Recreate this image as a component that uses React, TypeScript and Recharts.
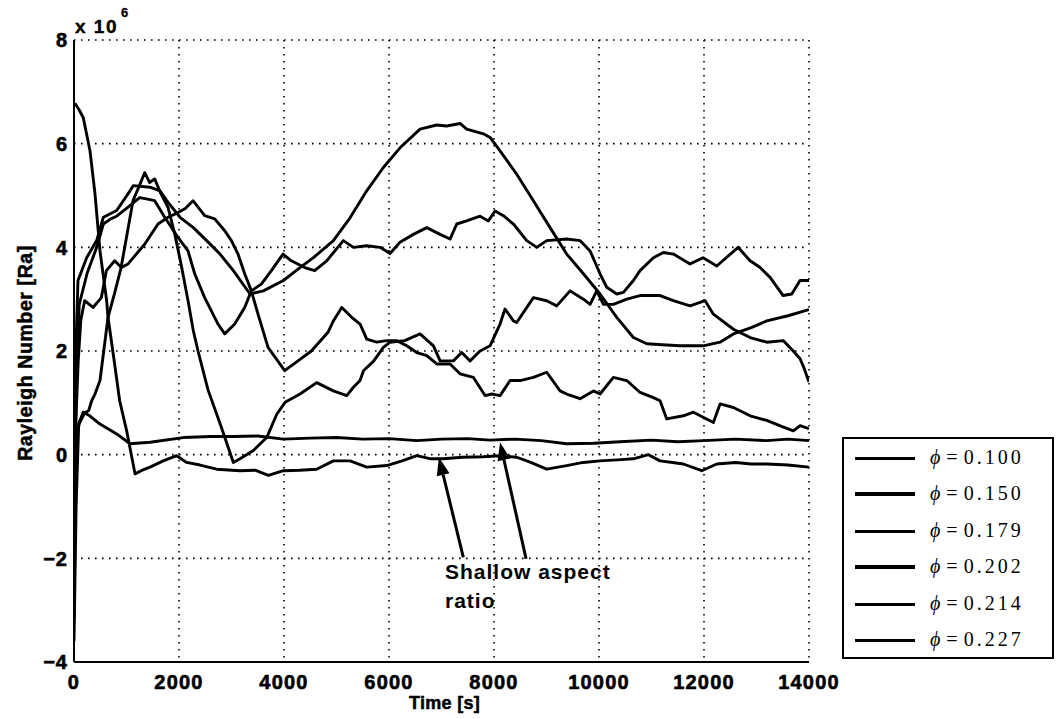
import React from "react";
import { LineChart, Line, XAxis, YAxis, CartesianGrid, ReferenceLine, Label } from "recharts";

// ---- tick labels / axes ----
const xTicks = [0, 2000, 4000, 6000, 8000, 10000, 12000, 14000];
const yTicks = [-4, -2, 0, 2, 4, 6, 8];
const seriesLabels = ["0.100", "0.150", "0.179", "0.202", "0.214", "0.227"];

// ---- series: [time s, Rayleigh number x 1e6] ----
const phi100: [number, number][] = [
  [0, -2.0], [40, 2.2], [76, 3.36], [241, 3.8], [432, 4.13], [559, 4.58], [813, 4.71], [1067, 5.09], [1130, 5.19],
  [1448, 5.16], [1638, 5.09], [1766, 4.9], [2019, 4.58], [2273, 4.38], [2527, 4.13], [2781, 3.87], [3035, 3.55],
  [3353, 3.1], [3607, 3.16], [3988, 3.36], [4305, 3.61], [4560, 3.8], [4940, 4.13], [5258, 4.57], [5576, 5.09],
  [5893, 5.54], [6210, 5.92], [6591, 6.28], [6909, 6.36], [7100, 6.34], [7353, 6.39], [7480, 6.28], [7798, 6.19],
  [7925, 6.12], [8115, 5.86], [8433, 5.41], [8750, 4.9], [9068, 4.38], [9385, 3.87], [9703, 3.49], [10020, 3.1],
  [10338, 2.65], [10655, 2.26], [10909, 2.14], [11200, 2.12], [11544, 2.1], [11983, 2.1], [12306, 2.17],
  [12560, 2.33], [12900, 2.45], [13195, 2.58], [13600, 2.68], [14000, 2.8],
];
const phi150: [number, number][] = [
  [0, -3.0], [40, 1.5], [100, 2.9], [150, 3.1], [250, 3.5], [432, 4.0], [559, 4.45], [700, 4.55], [813, 4.6],
  [1000, 4.75], [1251, 4.96], [1400, 4.93], [1537, 4.9], [1728, 4.58], [1981, 4.19], [2172, 3.93], [2299, 3.49],
  [2489, 3.03], [2743, 2.52], [2871, 2.33], [3061, 2.52], [3251, 2.84], [3378, 3.16], [3568, 3.29], [3759, 3.55],
  [3981, 3.87], [4140, 3.74], [4394, 3.61], [4585, 3.55], [4813, 3.74], [5131, 4.13], [5322, 4.0], [5576, 4.03],
  [5830, 4.0], [6020, 3.88], [6210, 4.1], [6464, 4.25], [6719, 4.38], [6973, 4.25], [7163, 4.16], [7290, 4.45],
  [7480, 4.51], [7734, 4.6], [7893, 4.51], [8020, 4.7], [8179, 4.61], [8370, 4.45], [8623, 4.13], [8814, 4.0],
  [9004, 4.13], [9385, 4.16], [9639, 4.13], [9830, 3.93], [10020, 3.49], [10147, 3.23], [10338, 3.1],
  [10465, 3.13], [10655, 3.36], [10782, 3.55], [11036, 3.8], [11226, 3.9], [11417, 3.87], [11734, 3.68],
  [11983, 3.8], [12243, 3.64], [12650, 4.0], [12878, 3.74], [13068, 3.61], [13259, 3.42], [13507, 3.07],
  [13672, 3.1], [13830, 3.36], [14000, 3.36],
];
const phi179: [number, number][] = [
  [0, -2.5], [30, 0.5], [80, 1.8], [130, 2.6], [203, 2.97], [362, 2.84], [521, 3.03], [616, 3.55], [775, 3.74],
  [902, 3.61], [1029, 3.68], [1346, 4.06], [1600, 4.45], [1791, 4.58], [1981, 4.67], [2120, 4.75], [2267, 4.9],
  [2489, 4.61], [2680, 4.55], [2871, 4.32], [2998, 4.13], [3124, 3.87], [3251, 3.49], [3378, 3.16], [3505, 2.71],
  [3696, 2.07], [4013, 1.62], [4267, 1.81], [4521, 2.0], [4838, 2.36], [4940, 2.58], [5100, 2.84], [5290, 2.65],
  [5450, 2.52], [5576, 2.23], [5766, 2.17], [5957, 2.2], [6147, 2.2], [6338, 2.1], [6528, 1.97], [6719, 1.91],
  [6910, 1.75], [7163, 1.75], [7353, 1.56], [7608, 1.49], [7830, 1.14], [7957, 1.17], [8115, 1.14], [8306, 1.43],
  [8496, 1.43], [8750, 1.49], [9004, 1.59], [9258, 1.23], [9385, 1.17], [9639, 1.08], [9894, 1.23], [10020, 1.17],
  [10274, 1.49], [10529, 1.43], [10782, 1.2], [11036, 1.1], [11163, 1.04], [11290, 0.69], [11607, 0.75],
  [11798, 0.82], [12179, 0.62], [12306, 0.98], [12560, 0.91], [12878, 0.75], [13195, 0.66], [13513, 0.53],
  [13703, 0.46], [13830, 0.56], [14000, 0.5],
];
const phi202: [number, number][] = [
  [0, -3.2], [40, 0.3], [100, 0.6], [200, 0.8], [280, 0.85], [337, 1.04], [400, 1.17], [495, 1.43], [648, 2.65],
  [770, 3.1], [895, 3.6], [1010, 4.25], [1124, 4.9], [1250, 5.2], [1346, 5.44], [1442, 5.25], [1537, 5.32],
  [1657, 5.03], [1791, 4.77], [1918, 4.26], [2038, 3.68], [2172, 2.97], [2273, 2.39], [2362, 2.0], [2553, 1.25],
  [2800, 0.55], [3035, -0.15], [3162, -0.08], [3416, 0.08], [3671, 0.33], [3862, 0.78], [4020, 1.01],
  [4305, 1.17], [4623, 1.39], [4940, 1.23], [5195, 1.14], [5322, 1.3], [5449, 1.43], [5513, 1.62], [5703, 1.8],
  [5893, 2.07], [6020, 2.17], [6300, 2.2], [6591, 2.33], [6846, 2.1], [6974, 1.81], [7226, 1.81], [7385, 1.97],
  [7544, 1.81], [7734, 2.0], [7925, 2.1], [8115, 2.52], [8210, 2.81], [8370, 2.58], [8433, 2.55], [8750, 3.03],
  [9004, 2.97], [9195, 2.87], [9449, 3.16], [9703, 3.0], [9830, 2.9], [9957, 3.16], [10084, 2.9], [10274, 2.9],
  [10529, 3.0], [10782, 3.07], [11163, 3.07], [11417, 2.97], [11734, 2.87], [12021, 2.97], [12179, 2.71],
  [12560, 2.42], [12878, 2.26], [13195, 2.17], [13513, 2.2], [13700, 2.0], [13830, 1.85], [13894, 1.7],
  [14000, 1.4],
];
const phi214: [number, number][] = [
  [0, -3.6], [40, -1.0], [90, 0.6], [177, 0.82], [300, 0.75], [495, 0.59], [813, 0.4], [1067, 0.21],
  [1448, 0.24], [2082, 0.33], [2600, 0.35], [3035, 0.35], [3500, 0.36], [3988, 0.3], [4500, 0.32], [5000, 0.33],
  [5500, 0.3], [6000, 0.31], [6528, 0.27], [7000, 0.3], [7500, 0.31], [7925, 0.28], [8400, 0.3], [8900, 0.27],
  [9385, 0.21], [9900, 0.22], [10400, 0.25], [11000, 0.28], [11500, 0.25], [12000, 0.27], [12600, 0.3],
  [13195, 0.27], [13600, 0.3], [14000, 0.27],
];
const phi227: [number, number][] = [
  [0, 6.76], [30, 6.76], [100, 6.65], [177, 6.5], [305, 5.86], [400, 5.03], [495, 3.93], [622, 2.97],
  [648, 2.65], [760, 1.85], [870, 1.04], [1003, 0.46], [1162, -0.37], [1300, -0.3], [1448, -0.24], [1700, -0.12],
  [1956, -0.02], [2146, -0.15], [2400, -0.2], [2718, -0.28], [3162, -0.31], [3450, -0.3], [3702, -0.4],
  [3988, -0.31], [4300, -0.3], [4623, -0.28], [4940, -0.12], [5258, -0.12], [5576, -0.24], [5957, -0.21],
  [6250, -0.12], [6528, -0.02], [6800, -0.08], [7036, -0.08], [7400, -0.05], [7798, -0.04], [8115, -0.02],
  [8433, -0.05], [8700, -0.15], [9004, -0.28], [9385, -0.21], [9700, -0.15], [10020, -0.12], [10350, -0.1],
  [10655, -0.08], [10941, 0.0], [11163, -0.12], [11400, -0.15], [11607, -0.18], [11957, -0.31], [12243, -0.18],
  [12600, -0.15], [12900, -0.18], [13195, -0.18], [13600, -0.2], [14000, -0.24],
];

// annotation arrows: [tail, tip] in data units
const arrowA: [number, number][] = [[7416, -1.98], [6950, -0.05]];
const arrowB: [number, number][] = [[8611, -2.01], [8115, 0.24]];

const allSeries = [phi100, phi150, phi179, phi202, phi214, phi227];
const legendWidths = [3, 4, 3, 4, 3, 3];

const toData = (s: [number, number][]) => s.map(([t, v]) => ({ t, v }));

const fmtY = (v: number) => (v < 0 ? "\u2212" + Math.abs(v) : String(v));

const SANS = "'Liberation Sans', Arial, Helvetica, sans-serif";

const XTick = (props: any) => {
  const { x, y, payload } = props;
  return (
    <text x={x} y={y} dy="0.71em" textAnchor="middle" fontFamily={SANS} fontWeight={700} fontSize={20}
      fill="#000" stroke="#000" strokeWidth={0.6} letterSpacing={1.2}>
      {payload.value}
    </text>
  );
};
const YTick = (props: any) => {
  const { x, y, payload } = props;
  return (
    <text x={x} y={y} dy="0.36em" textAnchor="end" fontFamily={SANS} fontWeight={700} fontSize={20}
      fill="#000" stroke="#000" strokeWidth={0.6} letterSpacing={1}>
      {fmtY(payload.value)}
    </text>
  );
};

const Arrow = (props: any) => {
  const { x1, y1, x2, y2 } = props;
  if ([x1, y1, x2, y2].some((n) => typeof n !== "number" || isNaN(n))) return <g />;
  const dx = x2 - x1;
  const dy = y2 - y1;
  const len = Math.sqrt(dx * dx + dy * dy);
  const ux = dx / len;
  const uy = dy / len;
  const hl = 18;
  const hw = 6.5;
  const bx = x2 - ux * hl;
  const by = y2 - uy * hl;
  const px = -uy;
  const py = ux;
  return (
    <g>
      <line x1={x1} y1={y1} x2={bx} y2={by} stroke="#000" strokeWidth={3} />
      <polygon points={`${x2},${y2} ${bx + px * hw},${by + py * hw} ${bx - px * hw},${by - py * hw}`} fill="#000" />
    </g>
  );
};

const YLabel = (props: any) => {
  const vb = props.viewBox || { x: 0, y: 40, width: 74, height: 622 };
  const cx = vb.x + 32;
  const cy = vb.y + vb.height / 2 + 2;
  return (
    <text x={cx} y={cy} transform={`rotate(-90 ${cx} ${cy})`} textAnchor="middle" fontFamily={SANS}
      fontWeight={700} fontSize={19.5} fill="#000" stroke="#000" strokeWidth={0.5} letterSpacing={0.6}>
      Rayleigh Number [Ra]
    </text>
  );
};
const XLabel = (props: any) => {
  const vb = props.viewBox || { x: 74, y: 662, width: 735, height: 57 };
  const cx = vb.x + vb.width / 2 + 3;
  return (
    <text x={cx} y={vb.y + 47} textAnchor="middle" fontFamily={SANS} fontWeight={700} fontSize={18}
      fill="#000" stroke="#000" strokeWidth={0.5} letterSpacing={0.3}>
      Time [s]
    </text>
  );
};

const axisLine = { stroke: "#000", strokeWidth: 2 };
const tickLine = { stroke: "#000", strokeWidth: 1.5 };

export default function App() {
  return (
    <div style={{ position: "absolute", left: 0, top: 0, width: 1058, height: 719, background: "#fff" }}>
      <LineChart width={1058} height={719} margin={{ top: 40, right: 249, bottom: 0, left: 0 }}>
        <CartesianGrid xAxisId="main" yAxisId="main" stroke="#000" strokeWidth={1.6} strokeDasharray="1.6 5.4" />
        <XAxis xAxisId="main" dataKey="t" type="number" domain={[0, 14000]} ticks={xTicks} allowDataOverflow
          height={57} axisLine={axisLine} tickLine={false} tickSize={0} tickMargin={13} tick={<XTick />}
          label={<Label content={<XLabel />} />} />
        <XAxis xAxisId="bm" type="number" domain={[0, 14000]} ticks={xTicks} allowDataOverflow orientation="bottom"
          mirror height={0} axisLine={axisLine} tickLine={tickLine} tickSize={8} tick={false} />
        <XAxis xAxisId="tm" type="number" domain={[0, 14000]} ticks={xTicks} allowDataOverflow orientation="top"
          mirror height={0} axisLine={axisLine} tickLine={tickLine} tickSize={8} tick={false} />
        <YAxis yAxisId="main" type="number" domain={[-4, 8]} ticks={yTicks} allowDataOverflow width={74}
          axisLine={axisLine} tickLine={false} tickSize={0} tickMargin={6} tick={<YTick />}
          label={<Label content={<YLabel />} />} />
        <YAxis yAxisId="lm" type="number" domain={[-4, 8]} ticks={yTicks} allowDataOverflow orientation="left"
          mirror width={0} axisLine={axisLine} tickLine={tickLine} tickSize={8} tick={false} />
        <YAxis yAxisId="rm" type="number" domain={[-4, 8]} ticks={yTicks} allowDataOverflow orientation="right"
          mirror width={0} axisLine={axisLine} tickLine={tickLine} tickSize={8} tick={false} />
        {allSeries.map((s, i) => (
          <Line key={seriesLabels[i]} xAxisId="main" yAxisId="main" data={toData(s)} dataKey="v" type="linear"
            stroke="#000" strokeWidth={2.9} dot={false} activeDot={false} isAnimationActive={false}
            strokeLinejoin="round" name={"\u03d5=" + seriesLabels[i]} />
        ))}
        <ReferenceLine xAxisId="main" yAxisId="main" ifOverflow="visible"
          segment={[{ x: arrowA[0][0], y: arrowA[0][1] }, { x: arrowA[1][0], y: arrowA[1][1] }]} shape={<Arrow />} />
        <ReferenceLine xAxisId="main" yAxisId="main" ifOverflow="visible"
          segment={[{ x: arrowB[0][0], y: arrowB[0][1] }, { x: arrowB[1][0], y: arrowB[1][1] }]} shape={<Arrow />} />
      </LineChart>

      {/* exponent */}
      <div style={{ position: "absolute", left: 75, top: 16, fontFamily: SANS, fontWeight: 700, fontSize: 19,
        lineHeight: "22px", whiteSpace: "nowrap", letterSpacing: 1.5, WebkitTextStroke: "0.4px #000" }}>x 10</div>
      <div style={{ position: "absolute", left: 121, top: 5, fontFamily: SANS, fontWeight: 700, fontSize: 13,
        lineHeight: "16px", WebkitTextStroke: "0.3px #000" }}>6</div>

      {/* annotation */}
      <div style={{ position: "absolute", left: 445, top: 560, fontFamily: SANS, fontWeight: 700, fontSize: 21,
        lineHeight: "24px", whiteSpace: "nowrap", letterSpacing: 1 }}>
        Shallow aspect
      </div>
      <div style={{ position: "absolute", left: 445, top: 589, fontFamily: SANS, fontWeight: 700, fontSize: 21,
        lineHeight: "24px", whiteSpace: "nowrap", letterSpacing: 1 }}>
        ratio
      </div>

      {/* legend */}
      <div style={{ position: "absolute", left: 842, top: 437, width: 212, height: 222, boxSizing: "border-box",
        border: "2px solid #000", background: "#fff" }}>
        {seriesLabels.map((lab, i) => {
          const cy = Math.round(18.7 + i * 36.5);
          return (
            <React.Fragment key={lab}>
              <div style={{ position: "absolute", left: 11, width: 60, top: cy - Math.floor(legendWidths[i] / 2),
                height: legendWidths[i], background: "#000" }} />
              <div style={{ position: "absolute", left: 86, top: cy - 13, fontFamily: "'Liberation Serif', serif",
                fontSize: 20, lineHeight: "25px", whiteSpace: "nowrap", letterSpacing: 3 }}>
                <i>{"\u03d5"}</i><span style={{ margin: "0 3px" }}>=</span>{lab}
              </div>
            </React.Fragment>
          );
        })}
      </div>
    </div>
  );
}
